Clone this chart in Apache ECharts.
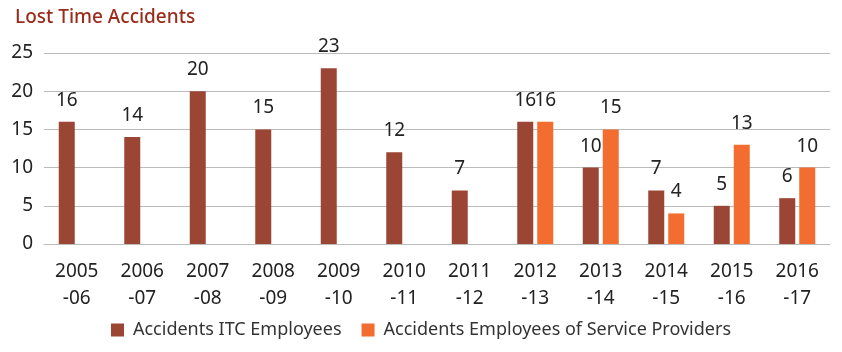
<!DOCTYPE html>
<html>
<head>
<meta charset="utf-8">
<script src="https://cdn.jsdelivr.net/npm/echarts@6/dist/echarts.min.js"></script>
<style>
	html, body { margin: 0; padding: 0; background: #fff; }
	#chart { width: 842px; height: 352px; }
</style>
</head>
<body>
<div id="chart"></div>
<script>
var years = ['2005\n-06', '2006\n-07', '2007\n-08', '2008\n-09', '2009\n-10', '2010\n-11',
	'2011\n-12', '2012\n-13', '2013\n-14', '2014\n-15', '2015\n-16', '2016\n-17'];
var itcEmployees = [16, 14, 20, 15, 23, 12, 7, 16, 10, 7, 5, 6];
var serviceProviders = [null, null, null, null, null, null, null, 16, 15, 4, 13, 10];
var legendArray = ['Accidents ITC Employees', 'Accidents Employees of Service Providers'];
var yTicks = [0, 5, 10, 15, 20, 25];

var fontName = '"Noto Sans", "Open Sans", sans-serif';
var chart = echarts.init(document.getElementById('chart'));
var option = {
	animation: false,
	title: {
		text: 'Lost Time Accidents',
		left: 10,
		top: 3,
		textStyle: {
			color: '#9b2c1c',
			fontSize: 19,
			fontWeight: 500,
			fontFamily: fontName
		}
	},
	legend: {
		data: legendArray,
		bottom: 8,
		left: 'center',
		itemWidth: 13,
		itemHeight: 13,
		itemGap: 20,
		icon: 'rect',
		textStyle: {
			fontSize: 18,
			color: '#333',
			padding: [0, 0, 0, 4],
			fontFamily: fontName
		}
	},
	grid: {
		left: 44,
		right: 12,
		top: 53,
		bottom: 108
	},
	xAxis: [{
		type: 'category',
		data: years,
		axisTick: { show: false },
		axisLine: { lineStyle: { color: '#bbb' } },
		axisLabel: {
			fontSize: 19,
			color: '#222',
			lineHeight: 27,
			margin: 14,
			fontFamily: fontName
		}
	}],
	yAxis: [{
		type: 'value',
		min: yTicks[0],
		max: yTicks[yTicks.length - 1],
		interval: 5,
		axisLabel: {
			fontSize: 19,
			color: '#222',
			margin: 11,
			fontFamily: fontName
		},
		splitLine: { lineStyle: { color: '#bbb' } }
	}],
	series: [{
		name: legendArray[0],
		type: 'bar',
		data: itcEmployees,
		barWidth: 16,
		barGap: '25%',
		itemStyle: { color: '#9b4634' },
		label: {
			show: true,
			position: 'top',
			distance: 12,
			fontSize: 19,
			color: '#222',
			fontFamily: fontName
		}
	}, {
		name: legendArray[1],
		type: 'bar',
		data: serviceProviders,
		barWidth: 16,
		itemStyle: { color: '#f26d2f' },
		label: {
			show: true,
			position: 'top',
			distance: 12,
			fontSize: 19,
			color: '#222',
			fontFamily: fontName
		}
	}]
};
chart.setOption(option);
</script>
</body>
</html>
